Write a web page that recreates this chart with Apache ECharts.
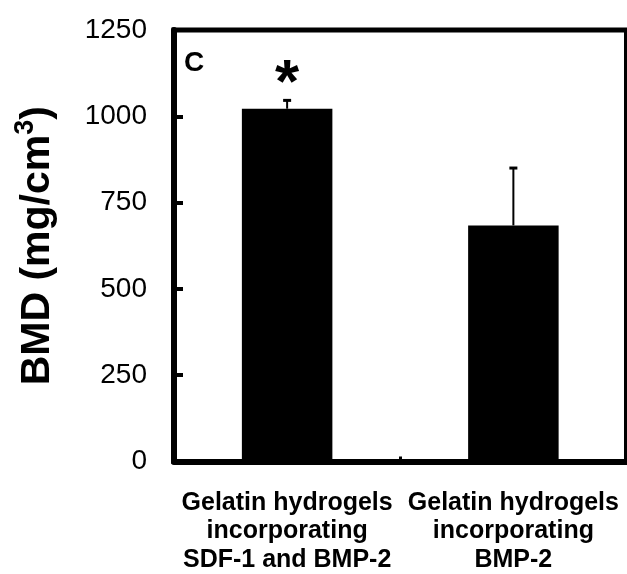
<!DOCTYPE html>
<html>
<head>
<meta charset="utf-8">
<script src="https://cdn.jsdelivr.net/npm/echarts@6/dist/echarts.min.js"></script>
<style>
html,body{margin:0;padding:0;background:#fff;}
#chart{width:627px;height:574px;}
</style>
</head>
<body>
<div id="chart"></div>
<script>
var categories = ['Gelatin hydrogels\nincorporating\nSDF-1 and BMP-2', 'Gelatin hydrogels\nincorporating\nBMP-2'];
var bmdValues = [1022, 684];
var bmdErrors = [27, 169];
var significance = ['*', ''];
var yTicks = {min: 0, max: 1250, interval: 250};
var panelLabel = 'C';
var yAxisTitleMain = 'BMD (mg/cm';
var yAxisTitleSup = '3';

var FONT = '"Liberation Sans", Arial, sans-serif';
var chart = echarts.init(document.getElementById('chart'), null, {renderer: 'canvas'});

var errData = bmdValues.map(function (v, i) { return [i, v, bmdErrors[i]]; });

chart.setOption({
  animation: false,
  backgroundColor: '#fff',
  grid: {
    left: 174, right: 0.5, top: 30, bottom: 109,
    show: true, borderColor: '#000', borderWidth: 5, backgroundColor: 'transparent'
  },
  xAxis: {
    type: 'category',
    data: categories,
    axisLine: {lineStyle: {color: '#000', width: 6}},
    axisTick: {show: true, inside: true, length: 5, lineStyle: {color: '#000', width: 3}, interval: 0},
    axisLabel: {
      interval: 0, margin: 27, color: '#000',
      fontFamily: FONT, fontWeight: 'bold', fontSize: 25, lineHeight: 28.5, align: 'center'
    },
    splitLine: {show: false}
  },
  yAxis: {
    type: 'value',
    min: yTicks.min, max: yTicks.max, interval: yTicks.interval,
    name: '{m|' + yAxisTitleMain + '}{s|' + yAxisTitleSup + '}{m|)}',
    nameLocation: 'middle',
    nameGap: 116,
    nameRotate: 90,
    nameTextStyle: {
      fontFamily: FONT, fontWeight: 'bold', fontSize: 41, color: '#000',
      rich: {
        m: {fontFamily: FONT, fontWeight: 'bold', fontSize: 41, color: '#000', lineHeight: 46, verticalAlign: 'bottom'},
        s: {fontFamily: FONT, fontWeight: 'bold', fontSize: 27, color: '#000', lineHeight: 46, verticalAlign: 'top'}
      }
    },
    axisLine: {show: true, lineStyle: {color: '#000', width: 6}},
    axisTick: {show: true, inside: true, length: 9, lineStyle: {color: '#000', width: 4}},
    axisLabel: {
      margin: 27, color: '#000', fontFamily: FONT, fontSize: 28,
      formatter: function (v) { return String(v); }
    },
    splitLine: {show: false}
  },
  graphic: [{
    type: 'text', left: 184, top: 49,
    style: {text: panelLabel, fontFamily: FONT, fontWeight: 'bold', fontSize: 28, fill: '#000'}
  }],
  series: [{
    type: 'bar',
    data: bmdValues,
    barWidth: '40%',
    itemStyle: {color: '#000'},
    label: {
      show: true, position: 'top', distance: -7,
      formatter: function (p) { return significance[p.dataIndex]; },
      fontFamily: FONT, fontWeight: 'bold', fontSize: 62, color: '#000'
    },
    z: 2
  }, {
    type: 'custom',
    data: errData,
    z: 3,
    renderItem: function (params, api) {
      var x = api.value(0);
      var v = api.value(1);
      var e = api.value(2);
      var base = api.coord([x, v]);
      var top = api.coord([x, v + e]);
      return {
        type: 'group',
        children: [{
          type: 'line',
          shape: {x1: base[0], y1: base[1], x2: top[0], y2: top[1] },
          style: {stroke: '#000', lineWidth: 2}
        }, {
          type: 'line',
          shape: {x1: top[0] - 4, y1: top[1] + 1, x2: top[0] + 4, y2: top[1] + 1},
          style: {stroke: '#000', lineWidth: 3}
        }]
      };
    }
  }]
});
</script>
</body>
</html>
